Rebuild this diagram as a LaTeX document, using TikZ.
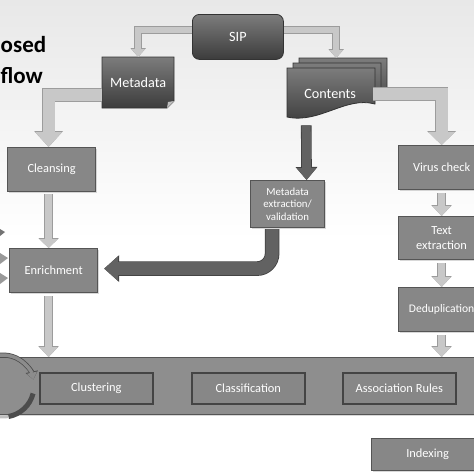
\documentclass[tikz,border=0pt]{standalone}
\usepackage{fontspec}
\setmainfont{Carlito}
\usetikzlibrary{arrows.meta,calc,shadows}
\definecolor{bgtop}{HTML}{E8E8E8}
\definecolor{boxfill}{HTML}{878787}
\definecolor{boxedge}{HTML}{555555}
\definecolor{barfill}{HTML}{8E8E8E}
\definecolor{darktop}{HTML}{7C7C7C}
\definecolor{darkbot}{HTML}{3C3C3C}
\definecolor{darkedge}{HTML}{333333}
\definecolor{arrfill}{HTML}{C8C8C8}
\definecolor{arredge}{HTML}{9C9C9C}
\definecolor{darkarr}{HTML}{626262}
\definecolor{darkarredge}{HTML}{404040}
\begin{document}
\begin{tikzpicture}[x=1pt,y=-1pt,
  lab/.style={text=white, font=\fontsize{12.4}{15}\selectfont, align=center, inner sep=0pt, anchor=north west},
  bigfont/.style={font=\fontsize{14.2}{16}\selectfont},
  graybox/.style={lab, draw=boxedge, line width=1.2pt, fill=boxfill,
    drop shadow={opacity=0.3, shadow xshift=1.5pt, shadow yshift=-1.5pt}},
  innerbox/.style={lab, draw=boxedge!80!black, line width=1.6pt, fill=boxfill,
    minimum width=113pt, minimum height=31pt},
  darkfill/.style={draw=darkedge, line width=0.8pt, top color=darktop, bottom color=darkbot},
  title/.style={font=\fontsize{23}{26}\selectfont\bfseries, text=black, inner sep=0pt},
  lightarrow/.style n args={6}{draw=arrfill, line width=#1, -{Triangle[width=#2,length=#3]},
    preaction={draw=arredge, line width=#4, -{Triangle[width=#5,length=#6]}}},
  darkarrow/.style n args={6}{draw=darkarr, line width=#1, -{Triangle[width=#2,length=#3]},
    preaction={draw=darkarredge, line width=#4, -{Triangle[width=#5,length=#6]}}}
]
\useasboundingbox (0,0) rectangle (474,474);
\clip (0,0) rectangle (474,474);
\fill[top color=bgtop, bottom color=white] (0,0) rectangle (474,240);
\fill[white] (0,240) rectangle (474,474);

% title fragments
\node[title, anchor=base west] (t1) at (0.5,52) {osed};
\node[title, anchor=base east] (t2) at (43,83) {flow};

% dark top-level shapes
\node[lab, bigfont, darkfill, rounded corners=7pt, minimum width=91pt, minimum height=45pt] (sip) at (192,14) {SIP};

\path[darkfill] (102,57) -- (174,57) -- (174,101) -- (167,108) -- (102,108) -- cycle;
\fill[black!25] (174,101) -- (167,108) -- (168,102) -- cycle;
\node[lab, bigfont, minimum width=72pt, minimum height=51pt] (meta) at (102,57) {Metadata};

\foreach \dx/\dy in {12/-10, 6/-5, 0/0}{
  \path[darkfill, shift={(\dx,\dy)}] (287,68) -- (375,68) -- (375,104)
    .. controls (345,96) and (320,124) .. (287,117) -- cycle;
}
\node[lab, bigfont, minimum width=86pt, minimum height=52pt] (contents) at (287,68) {Contents};

% gray process boxes
\node[graybox, minimum width=88pt, minimum height=44pt] (cleansing) at (7,147) {Cleansing};
\node[graybox, minimum width=88pt, minimum height=44pt] (enrich) at (9,248) {Enrichment};
\node[graybox, font=\fontsize{10.8}{12.5}\selectfont, minimum width=74pt, minimum height=47pt] (mextr) at (250,180) {Metadata\\extraction/\\validation};
\node[graybox, minimum width=86pt, minimum height=44pt] (virus) at (398,145) {Virus check};
\node[graybox, minimum width=86pt, minimum height=43pt] (textx) at (398,216) {Text\\extraction};
\node[graybox, minimum width=86pt, minimum height=44pt, text width=74pt, font=\fontsize{11.6}{14}\selectfont] (dedup) at (398,287) {Deduplication};
\node[graybox, fill=barfill, minimum width=494pt, minimum height=57pt] (bar) at (-10,357) {};
\node[innerbox] (clus) at (39,372) {Clustering};
\node[innerbox] (class) at (191,372) {Classification};
\node[innerbox] (assoc) at (342,372) {Association Rules};
\node[graybox, minimum width=112pt, minimum height=32pt] (index) at (371,438) {Indexing};

% cycle arrow at left of the bar
\coordinate (cyc) at (3,386);
\draw[line width=3.5pt, black!45, -{Triangle[width=10pt,length=7pt]},
  preaction={draw=black!70, line width=5pt, -{Triangle[width=12pt,length=8pt]}}]
  ($(cyc)+(118:31pt)$) arc[start angle=118, end angle=12, radius=31pt];
\draw[line width=5pt, black!70] ($(cyc)+(-14:31pt)$) arc[start angle=-14, end angle=-80, radius=31pt];
\draw[line width=3pt, black!25] ($(cyc)+(-80:31pt)$) arc[start angle=-80, end angle=-130, radius=31pt];

% cut-off arrow heads at the left edge
\fill[black!55] (0,229) -- (5,232) -- (0,236) -- cycle;
\fill[black!40] (0,253) -- (8,258) -- (0,264) -- cycle;
\fill[black!40] (0,273) -- (8,278) -- (0,284) -- cycle;

% connectors
\draw[lightarrow={6pt}{13pt}{8pt}{7.6pt}{15pt}{9pt}]
  ($(sip.west)+(0,-7)$) -| (meta.north);
\coordinate (cin) at ($(contents.north)+(6,-10)$);
\draw[lightarrow={6pt}{13pt}{8pt}{7.6pt}{15pt}{9pt}]
  ($(sip.east)+(0,-7)$) -| (cin);
\draw[lightarrow={12pt}{26pt}{15pt}{13.6pt}{28pt}{16pt}]
  ($(meta.west)+(0,12)$) -| ($(cleansing.north)+(-3,0)$);
\draw[lightarrow={12pt}{26pt}{13pt}{13.6pt}{28pt}{14pt}]
  (contents.east) -| (virus.north);
\draw[lightarrow={7pt}{18pt}{9pt}{8.6pt}{20pt}{10pt}]
  ($(cleansing.south)+(-3,2)$) -- ($(enrich.north)+(-5,0)$);
\coordinate (eb) at ($(enrich.south)+(-5,3)$);
\draw[lightarrow={7pt}{18pt}{10pt}{8.6pt}{20pt}{11pt}]
  (eb) -- (eb |- bar.north);
\draw[lightarrow={7pt}{18pt}{10pt}{8.6pt}{20pt}{11pt}]
  ($(virus.south)+(0,3)$) -- (textx.north);
\draw[lightarrow={7pt}{18pt}{10pt}{8.6pt}{20pt}{11pt}]
  ($(textx.south)+(0,3)$) -- (dedup.north);
\draw[lightarrow={7pt}{18pt}{10pt}{8.6pt}{20pt}{11pt}]
  ($(dedup.south)+(0,3)$) -- (dedup.south |- bar.north);
\draw[darkarrow={9pt}{19pt}{12pt}{10.6pt}{21pt}{13pt}]
  ($(contents.south)+(-24,5)$) -- ($(mextr.north)+(19,0)$);
\draw[darkarrow={13pt}{24pt}{14pt}{14.6pt}{26pt}{15pt}, rounded corners=15pt]
  ($(mextr.south)+(-15.5,1)$) |- ($(enrich.east)+(6,-2)$);
\end{tikzpicture}
\end{document}
